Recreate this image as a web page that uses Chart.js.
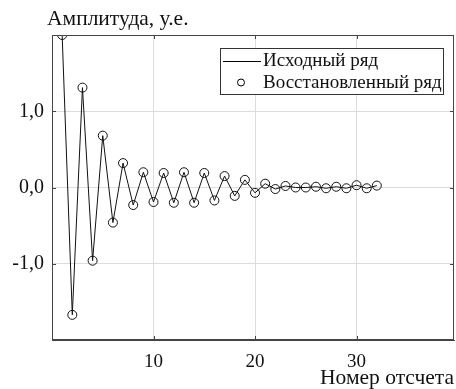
<!DOCTYPE html>
<html>
<head>
<meta charset="utf-8">
<script src="https://cdn.jsdelivr.net/npm/chart.js@4"></script>
<style>
  html, body { margin: 0; padding: 0; background: #fff; }
  #wrap { width: 456px; height: 389px; }
</style>
</head>
<body>
<div id="wrap"><canvas id="ampChart" width="456" height="389"></canvas></div>
<script>
const FONT = '"Liberation Serif", "Times New Roman", serif';

// sample numbers 1..32
const samples = [1,2,3,4,5,6,7,8,9,10,11,12,13,14,15,16,17,18,19,20,21,22,23,24,25,26,27,28,29,30,31,32];
// source series
const sourceVals = [2.00,-1.67,1.31,-0.96,0.68,-0.46,0.32,-0.23,0.20,-0.19,0.19,-0.20,0.20,-0.20,0.19,-0.17,
  0.15,-0.11,0.10,-0.07,0.05,-0.02,0.02,0.00,0.00,0.01,-0.01,0.01,-0.01,0.03,-0.01,0.025];
// restored series (circles)
const restoredVals = [2.00,-1.67,1.31,-0.96,0.68,-0.46,0.32,-0.23,0.20,-0.19,0.19,-0.20,0.20,-0.20,0.19,-0.17,
  0.15,-0.11,0.10,-0.07,0.05,-0.02,0.02,0.00,0.00,0.01,-0.01,0.01,-0.01,0.03,-0.01,0.025];
const xTicks = [10, 20, 30];
const yTicks = [-1, 0, 1];
const yTitle = 'Амплитуда, у.е.';
const xTitle = 'Номер отсчета';

function pts(vals) {
  return samples.map((s, i) => ({ x: s, y: vals[i] }));
}

// box, inner tick marks, axis title and legend
const framePlugin = {
  id: 'frame',
  afterDraw(chart) {
    const { ctx, chartArea: a, scales } = chart;
    ctx.save();
    ctx.strokeStyle = '#444';
    ctx.lineWidth = 1;
    ctx.strokeRect(a.left + 0.5, a.top + 0.5, a.right - a.left - 1, a.bottom - a.top - 1);
    // inner ticks
    xTicks.forEach(v => {
      const px = Math.round(scales.x.getPixelForValue(v)) + 0.5;
      ctx.beginPath();
      ctx.moveTo(px, a.top); ctx.lineTo(px, a.top + 4);
      ctx.moveTo(px, a.bottom); ctx.lineTo(px, a.bottom - 4);
      ctx.stroke();
    });
    yTicks.forEach(v => {
      const py = Math.round(scales.y.getPixelForValue(v)) + 0.5;
      ctx.beginPath();
      ctx.moveTo(a.left, py); ctx.lineTo(a.left + 4, py);
      ctx.moveTo(a.right, py); ctx.lineTo(a.right - 4, py);
      ctx.stroke();
    });

    // y title
    ctx.fillStyle = '#111';
    ctx.font = '21.5px ' + FONT;
    ctx.textAlign = 'left';
    ctx.textBaseline = 'middle';
    ctx.fillText(yTitle, 47, 19.5);

    // legend
    const lx = 220, ly = 48, lw = 223, lh = 46;
    ctx.fillStyle = '#fff';
    ctx.fillRect(lx, ly, lw, lh);
    ctx.strokeStyle = '#333';
    ctx.strokeRect(lx + 0.5, ly + 0.5, lw, lh);
    ctx.strokeStyle = '#000';
    ctx.beginPath();
    ctx.moveTo(223, 61.5); ctx.lineTo(261, 61.5);
    ctx.stroke();
    ctx.beginPath();
    ctx.arc(241, 82.5, 3.5, 0, Math.PI * 2);
    ctx.stroke();
    ctx.fillStyle = '#111';
    ctx.font = '19px ' + FONT;
    ctx.fillText(chart.data.datasets[0].label, 263, 61);
    ctx.fillText(chart.data.datasets[1].label, 263, 83);
    ctx.restore();
  }
};

new Chart(document.getElementById('ampChart'), {
  type: 'line',
  data: {
    datasets: [{
      label: 'Исходный ряд',
      data: pts(sourceVals),
      borderColor: '#111',
      borderWidth: 1,
      pointRadius: 0,
      tension: 0,
      fill: false,
    }, {
      label: 'Восстановленный ряд',
      data: pts(restoredVals),
      showLine: false,
      pointRadius: 4.5,
      pointBorderWidth: 1,
      pointBorderColor: '#111',
      pointBackgroundColor: 'rgba(255,255,255,0)',
    }]
  },
  options: {
    responsive: false,
    animation: false,
    devicePixelRatio: 1,
    layout: { autoPadding: false, padding: { left: 0, right: 2, top: 35, bottom: 0 } },
    plugins: { legend: { display: false }, tooltip: { enabled: false } },
    scales: {
      x: {
        type: 'linear',
        min: 0, max: 39.6,
        afterBuildTicks: s => { s.ticks = xTicks.map(v => ({ value: v })); },
        afterFit: s => { s.height = 49; s.paddingLeft = 0; s.paddingRight = 0; },
        grid: { color: '#dcdcdc', drawTicks: false },
        border: { color: '#444' },
        ticks: { color: '#111', padding: 11, maxRotation: 0, font: { family: FONT, size: 19 } },
        title: {
          display: true, text: xTitle, align: 'end', color: '#111',
          padding: { top: 0, bottom: 0 },
          font: { family: FONT, size: 21.5, lineHeight: 1.0 }
        }
      },
      y: {
        min: -2, max: 2,
        afterBuildTicks: s => { s.ticks = yTicks.map(v => ({ value: v })); },
        afterFit: s => { s.width = 52; },
        grid: { color: '#dcdcdc', drawTicks: false },
        border: { color: '#444' },
        ticks: {
          color: '#111', padding: 8,
          font: { family: FONT, size: 20 },
          callback: v => v.toFixed(1).replace('.', ',')
        }
      }
    }
  },
  plugins: [framePlugin]
});
</script>
</body>
</html>
